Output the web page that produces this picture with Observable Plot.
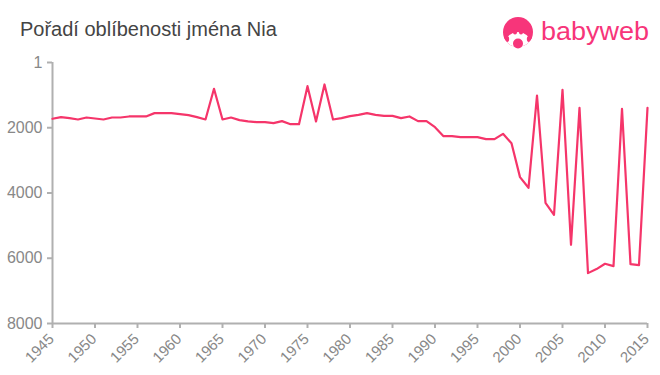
<!DOCTYPE html>
<html><head><meta charset="utf-8">
<script src="https://cdn.jsdelivr.net/npm/d3@7"></script>
<script src="https://cdn.jsdelivr.net/npm/@observablehq/plot@0.6"></script>
<style>
body{margin:0;background:#fff;font-family:"Liberation Sans",Arial,sans-serif;}
#wrap{position:relative;width:660px;height:375px;overflow:hidden;}
#title{position:absolute;left:20px;top:18px;font-size:20px;color:#444;white-space:nowrap;}
#logo{position:absolute;left:0;top:0;}
</style></head><body>
<div id="wrap"><div id="chart"></div><div id="title">Pořadí oblíbenosti jména Nia</div>
<svg id="logo" width="660" height="60">
  <defs><clipPath id="cc"><circle cx="518" cy="32" r="15"/></clipPath></defs>
  <circle cx="518" cy="32" r="15" fill="#f7357a"/>
  <g clip-path="url(#cc)">
    <ellipse cx="518" cy="42" rx="12" ry="10" fill="#fff"/>
    <circle cx="506" cy="39" r="3.2" fill="#f7357a"/>
    <circle cx="530" cy="39" r="3.2" fill="#f7357a"/>
    <circle cx="515" cy="32.5" r="2" fill="#f7357a"/>
    <circle cx="521" cy="32.5" r="2" fill="#f7357a"/>
  </g>
  <circle cx="518" cy="43.5" r="5" fill="#f7357a"/>
  <text x="541" y="40" font-size="25" fill="#f7357a" font-family="'Liberation Sans',Arial,sans-serif" textLength="108" lengthAdjust="spacingAndGlyphs">babyweb</text>
</svg></div>
<script>
const years = [1945,1946,1947,1948,1949,1950,1951,1952,1953,1954,1955,1956,1957,1958,1959,1960,1961,1962,1963,1964,1965,1966,1967,1968,1969,1970,1971,1972,1973,1974,1975,1976,1977,1978,1979,1980,1981,1982,1983,1984,1985,1986,1987,1988,1989,1990,1991,1992,1993,1994,1995,1996,1997,1998,1999,2000,2001,2002,2003,2004,2005,2006,2007,2008,2009,2010,2011,2012,2013,2014,2015];
const ranks = [1726,1676,1707,1747,1686,1717,1747,1686,1686,1655,1655,1655,1553,1553,1553,1584,1615,1676,1747,807,1747,1686,1768,1808,1829,1829,1860,1798,1891,1891,726,1808,675,1747,1707,1645,1604,1553,1604,1635,1635,1707,1655,1798,1798,1982,2258,2258,2289,2289,2289,2350,2350,2187,2473,3514,3841,1012,4300,4668,838,5588,1390,6456,6333,6170,6242,1420,6180,6211,1390];
const yTicks = [1,2000,4000,6000,8000];
const xTicks = [1945,1950,1955,1960,1965,1970,1975,1980,1985,1990,1995,2000,2005,2010,2015];

const data = years.map((y,i)=>({year:y, rank:ranks[i]}));
const chart = Plot.plot({
  width:660, height:375,
  marginLeft:52, marginRight:13, marginTop:62, marginBottom:52,
  style:{fontFamily:"'Liberation Sans',Arial,sans-serif", color:"#888", background:"transparent", overflow:"visible"},
  x:{type:"linear", domain:[1945,2015]},
  y:{type:"linear", domain:[8000,1]},
  marks:[
    Plot.ruleX([1945],{y1:1,y2:8000,stroke:"#b0b0b0",strokeWidth:2}),
    Plot.ruleY([8000],{x1:1945,x2:2015,stroke:"#b0b0b0",strokeWidth:2}),
    Plot.axisY({ticks:yTicks, tickFormat:d=>String(d), tickSize:5, tickPadding:5, fontSize:16, fill:"#888", stroke:"#b0b0b0", strokeWidth:2, label:null}),
    Plot.axisX({ticks:xTicks, tickFormat:()=>"", tickSize:5, stroke:"#b0b0b0", strokeWidth:2, label:null}),
    Plot.text(xTicks,{x:d=>d, y:8000, text:d=>String(d), rotate:-45, textAnchor:"end", lineAnchor:"middle", dx:-1, dy:13, fontSize:15, fill:"#888"}),
    Plot.line(data,{x:"year",y:"rank",stroke:"#f5356a",strokeWidth:2.2})
  ]
});
document.getElementById("chart").appendChild(chart);
</script>
</body></html>
